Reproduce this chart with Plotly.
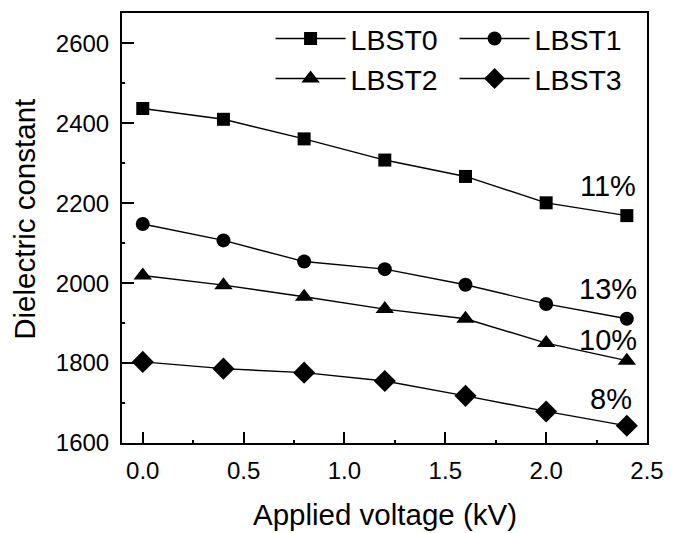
import plotly.graph_objects as go

voltage = [0.0, 0.4, 0.8, 1.2, 1.6, 2.0, 2.4]
lbst0 = [2437, 2410, 2361, 2308, 2267, 2201, 2169]
lbst1 = [2148, 2107, 2054, 2035, 1996, 1948, 1911]
lbst2 = [2019, 1995, 1966, 1935, 1911, 1850, 1806]
lbst3 = [1803, 1786, 1776, 1755, 1718, 1679, 1643]

series_names = ["LBST0", "LBST1", "LBST2", "LBST3"]
series_values = [lbst0, lbst1, lbst2, lbst3]
symbols = ["square", "circle", "triangle-up", "diamond"]
sizes = [13, 14, 16, 17]

pct_labels = ["11%", "13%", "10%", "8%"]
pct_x = [2.305, 2.305, 2.305, 2.32]
pct_y = [2244, 1986, 1858, 1710]

x_ticks = [0, 0.5, 1.0, 1.5, 2.0, 2.5]
x_ticktext = ["0.0", "0.5", "1.0", "1.5", "2.0", "2.5"]
y_ticks = [1600, 1800, 2000, 2200, 2400, 2600]

FONT = "Liberation Sans, Arial, sans-serif"

fig = go.Figure()
for name, vals, sym, sz in zip(series_names, series_values, symbols, sizes):
    fig.add_trace(go.Scatter(
        x=voltage, y=vals, name=name, mode="lines+markers",
        line=dict(color="black", width=1.4),
        marker=dict(symbol=sym, size=sz, color="black"),
    ))

for t, xx, yy in zip(pct_labels, pct_x, pct_y):
    fig.add_annotation(x=xx, y=yy, text=t, showarrow=False,
                       font=dict(size=29, color="black", family=FONT))

# axis titles
fig.add_annotation(xref="paper", yref="paper", x=0.5, y=-0.1653,
                   xanchor="center", yanchor="middle", showarrow=False,
                   text="Applied voltage (kV)", font=dict(size=29.5, family=FONT, color="black"))
fig.add_annotation(xref="paper", yref="paper", x=-0.1848, y=0.5214,
                   xanchor="center", yanchor="middle", showarrow=False, textangle=-90,
                   text="Dielectric constant", font=dict(size=29.5, family=FONT, color="black"))

fig.update_layout(
    width=675, height=533,
    margin=dict(l=122, r=21, t=11, b=89.5),
    paper_bgcolor="white", plot_bgcolor="white",
    font=dict(family=FONT, color="black", size=24),
    showlegend=True,
    legend=dict(
        orientation="h", x=0.283, y=0.999, xanchor="left", yanchor="top",
        entrywidth=99, entrywidthmode="pixels", itemwidth=70, itemsizing="trace",
        font=dict(size=28.5, family=FONT), bgcolor="rgba(0,0,0,0)",
    ),
)
fig.update_xaxes(
    range=[-0.103, 2.5], tickvals=x_ticks, ticktext=x_ticktext,
    showgrid=False, zeroline=False,
    showline=True, linewidth=2, linecolor="black", mirror=True,
    ticks="inside", ticklen=11, tickwidth=2, tickcolor="black",
    minor=dict(tickvals=[0.25, 0.75, 1.25, 1.75, 2.25], ticks="inside", ticklen=3, tickwidth=1.5, tickcolor="black"),
    tickfont=dict(size=24), ticklabelstandoff=5,
)
fig.update_yaxes(
    range=[1600, 2676], tickvals=y_ticks,
    showgrid=False, zeroline=False,
    showline=True, linewidth=2, linecolor="black", mirror=True,
    ticks="inside", ticklen=12, tickwidth=2, tickcolor="black",
    minor=dict(tickvals=[1700, 1900, 2100, 2300, 2500], ticks="inside", ticklen=3, tickwidth=1.5, tickcolor="black"),
    tickfont=dict(size=24), ticklabelstandoff=6,
)

fig.write_html("out.html", config={"displayModeBar": False},
               post_script="document.body.style.margin='0';document.body.style.overflow='hidden';")
